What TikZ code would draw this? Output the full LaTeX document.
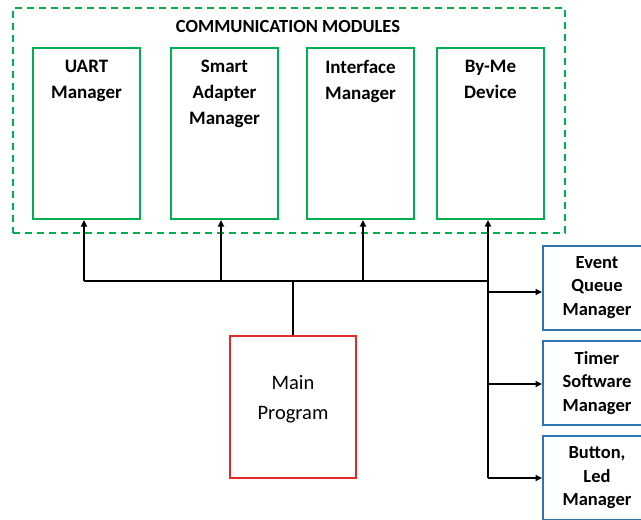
\documentclass[tikz,border=0pt]{standalone}
\usepackage{fontspec}
\setmainfont{Carlito}
\usetikzlibrary{arrows.meta}
\definecolor{modgreen}{RGB}{0,176,80}
\definecolor{mainred}{RGB}{232,40,40}
\definecolor{svcblue}{RGB}{46,117,182}
\tikzset{
  modbox/.style={draw=modgreen, line width=2pt, minimum width=107pt, minimum height=171pt, inner sep=0pt},
  modtext/.style={anchor=north, align=center, inner sep=0pt, font=\fontsize{19}{26}\selectfont\bfseries},
  svcbox/.style={draw=svcblue, line width=2pt, minimum width=108pt, minimum height=84pt, align=center, inner sep=0pt, font=\fontsize{18.5}{23.5}\selectfont\bfseries},
  mainbox/.style={draw=mainred, line width=2pt, minimum width=126pt, minimum height=142pt, inner sep=0pt},
  maintext/.style={align=center, inner sep=0pt, font=\fontsize{20.5}{30}\selectfont},
  wire/.style={line width=1.8pt, black},
  arr/.style={wire, -{Triangle[length=6.5pt,width=6pt]}}
}
\begin{document}
\begin{tikzpicture}[x=1pt,y=-1pt]
\useasboundingbox (0,0) rectangle (641,520);

% communication modules group
\node[draw=modgreen, dashed, dash pattern=on 7pt off 5pt, line width=2pt,
      minimum width=552pt, minimum height=225pt, inner sep=0pt] (group) at (289,120.5) {};
\node[font=\fontsize{18.5}{22}\selectfont\bfseries, inner sep=0pt] (title) at (288,26) {COMMUNICATION MODULES};

\node[modbox] (uart)  at (86.5,133.5) {};
\node[modbox] (smart) at (224.5,133.5) {};
\node[modbox] (iface) at (360.5,133.5) {};
\node[modbox] (byme)  at (490.5,133.5) {};

\node[modtext] (uartt)  at (86.5,60)  {UART\\Manager};
\node[modtext] (smartt) at (224.5,60) {Smart\\Adapter\\Manager};
\node[modtext] (ifacet) at (360.5,60) {Interface\\Manager};
\node[modtext] (bymet)  at (490.5,60) {By-Me\\Device};

% main program
\node[mainbox] (main) at (293,407) {};
\node[maintext] (maint) at (293,399) {Main\\Program};

% services on the right
\node[svcbox] (event)  at (597,287.5) {Event\\Queue\\Manager};
\node[svcbox] (timer)  at (597,383)   {Timer\\Software\\Manager};
\node[svcbox] (button) at (597,478)   {Button,\\Led\\Manager};

% bus
\coordinate (bl) at (84,281);
\coordinate (bs) at (221,281);
\coordinate (bm) at (293,281);
\coordinate (bi) at (363,281);
\coordinate (br) at (488,281);
\coordinate (t1) at (488,292);
\coordinate (t2) at (488,384);
\coordinate (t3) at (488,478);

\draw[wire] (bl) -- (br);
\draw[wire] (main.north) -- (bm);
\draw[arr] (bl) -- (bl |- uart.south);
\draw[arr] (bs) -- (bs |- smart.south);
\draw[arr] (bi) -- (bi |- iface.south);
\draw[arr] (br) -- (br |- byme.south);
\draw[wire] (br) -- (t3);
\draw[arr] (t1) -- (t1 -| event.west);
\draw[arr] (t2) -- (t2 -| timer.west);
\draw[arr] (t3) -- (t3 -| button.west);
\end{tikzpicture}
\end{document}
